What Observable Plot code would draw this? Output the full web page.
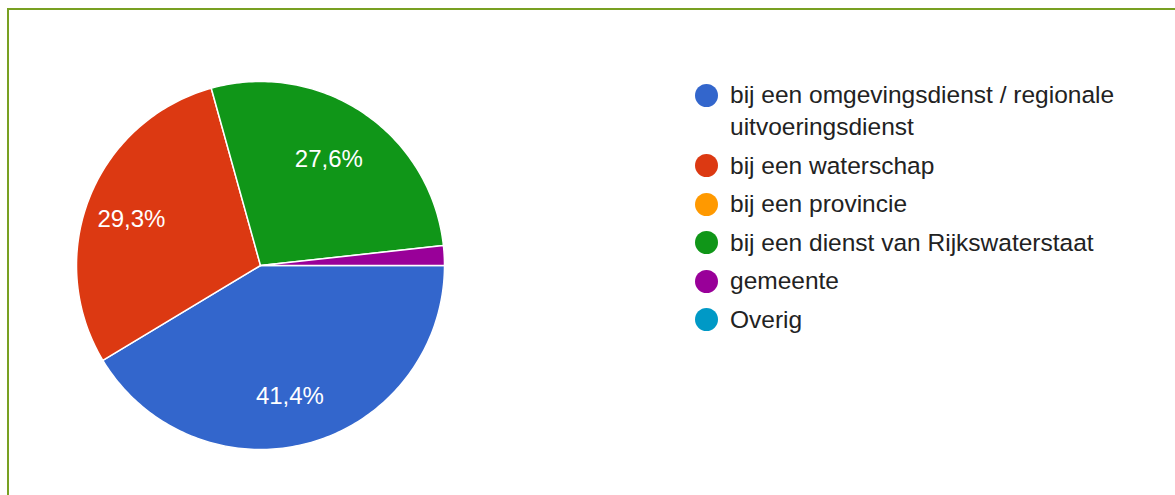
<!DOCTYPE html>
<html>
<head>
<meta charset="utf-8">
<script src="https://cdn.jsdelivr.net/npm/d3@7"></script>
<script src="https://cdn.jsdelivr.net/npm/@observablehq/plot@0.6"></script>
<style>
  html, body { margin: 0; padding: 0; background: #fff; overflow: hidden; }
  body { width: 1175px; height: 495px; position: relative; font-family: "Liberation Sans", Arial, sans-serif; }
  #frame { position: absolute; left: 7px; top: 8px; width: 1200px; height: 520px; border-left: 2px solid #78a022; border-top: 2px solid #78a022; box-sizing: border-box; }
  #chart { position: absolute; left: 0; top: 0; }
  #legend { position: absolute; left: 695px; top: 79px; font-size: 24.5px; color: #222; }
  .item { display: flex; align-items: flex-start; line-height: 32px; margin-bottom: 6.5px; }
  .sw { width: 23px; height: 23px; border-radius: 50%; flex: none; margin-top: 4.5px; margin-right: 12px; }
  .lab { width: 430px; }
</style>
</head>
<body>
<div id="frame"></div>
<div id="chart"></div>
<div id="legend"></div>
<script>
const categories = [
  "bij een omgevingsdienst / regionale uitvoeringsdienst",
  "bij een waterschap",
  "bij een provincie",
  "bij een dienst van Rijkswaterstaat",
  "gemeente",
  "Overig"
];
const counts = [24, 17, 0, 16, 1, 0];
const colors = ["#3366cc", "#dc3912", "#ff9900", "#109618", "#990099", "#0099c6"];
const legendLines = [
  ["bij een omgevingsdienst / regionale", "uitvoeringsdienst"],
  ["bij een waterschap"],
  ["bij een provincie"],
  ["bij een dienst van Rijkswaterstaat"],
  ["gemeente"],
  ["Overig"]
];

const total = d3.sum(counts);
const pie = d3.pie().sort(null).startAngle(Math.PI / 2).endAngle(Math.PI / 2 + 2 * Math.PI);
const arcs = pie(counts);

// polygon points for slices (unit circle, angle measured clockwise from north)
const slicePts = [];
arcs.forEach((a, i) => {
  if (a.endAngle - a.startAngle <= 0) return;
  const cat = categories[i];
  slicePts.push({cat, x: 0, y: 0});
  const n = Math.max(2, Math.ceil((a.endAngle - a.startAngle) / (Math.PI / 180)));
  for (let k = 0; k <= n; k++) {
    const t = a.startAngle + (a.endAngle - a.startAngle) * k / n;
    slicePts.push({cat, x: Math.sin(t), y: Math.cos(t)});
  }
  slicePts.push({cat, x: 0, y: 0});
});

const labels = arcs
  .map((a, i) => {
    const m = (a.startAngle + a.endAngle) / 2;
    const p = counts[i] / total;
    return {x: 0.72 * Math.sin(m), y: 0.72 * Math.cos(m), p, text: (p * 100).toFixed(1).replace(".", ",") + "%"};
  })
  .filter(d => d.p > 0.05);

const plot = Plot.plot({
  width: 600,
  height: 495,
  margin: 0,
  x: {domain: [-1, 1], range: [76, 444], axis: null},
  y: {domain: [-1, 1], range: [449, 81], axis: null},
  color: {domain: categories, range: colors},
  style: {background: "transparent", fontFamily: "'Liberation Sans', Arial, sans-serif"},
  marks: [
    Plot.line(slicePts, {x: "x", y: "y", z: "cat", fill: "cat", stroke: "white", strokeWidth: 1.5, strokeLinejoin: "round"}),
    Plot.text(labels, {x: "x", y: "y", text: "text", fill: "white", fontSize: 24, dx: -6, dy: 3})
  ]
});
document.getElementById("chart").appendChild(plot);

const legend = document.getElementById("legend");
categories.forEach((c, i) => {
  const item = document.createElement("div");
  item.className = "item";
  const sw = document.createElement("span");
  sw.className = "sw";
  sw.style.background = colors[i];
  const lab = document.createElement("div");
  lab.className = "lab";
  lab.innerHTML = legendLines[i].join("<br>");
  item.appendChild(sw);
  item.appendChild(lab);
  legend.appendChild(item);
});
</script>
</body>
</html>
